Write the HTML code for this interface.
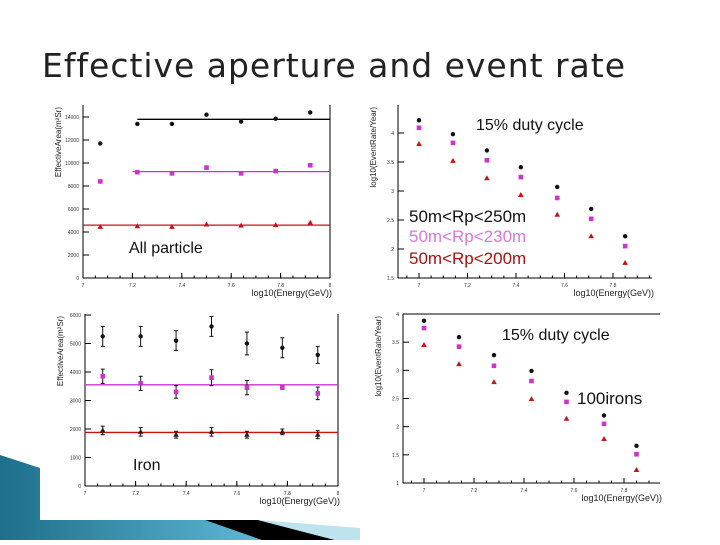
<!DOCTYPE html>
<html><head><meta charset="utf-8"><style>
body{margin:0;width:720px;height:540px;background:#fff;overflow:hidden;font-family:"Liberation Sans",sans-serif}
</style></head><body>
<svg id="s" width="720" height="540" xmlns="http://www.w3.org/2000/svg">
<defs><linearGradient id="tg" x1="0" x2="1"><stop offset="0" stop-color="#1d6f8a"/><stop offset="1" stop-color="#5fb8d6"/></linearGradient></defs>
<polygon points="0,455 40,468 40,520 245,520 262,540 0,540" fill="url(#tg)"/>
<polygon points="205,520 258,520 335,540 262,540" fill="#000"/>
<polygon points="258,520 360,528 360,540 335,540" fill="#bde3ef"/>
<text x="42" y="77" font-size="33" fill="#222" textLength="583" style="font-variant-ligatures:none" font-family="DejaVu Sans, sans-serif">Effective aperture and event rate</text>
<g id="g"></g>
</svg>
<script>
const xs1=[7.07,7.22,7.36,7.5,7.64,7.78,7.92];
const a1Black=[11700,13400,13400,14200,13600,13850,14400];
const a1Mag=[8400,9200,9100,9600,9100,9300,9800];
const a1Red=[4450,4500,4450,4650,4550,4600,4800];
const fit1=[13800,9250,4600];
const xs2=[7.0,7.14,7.28,7.42,7.57,7.71,7.85];
const r1Black=[4.22,3.98,3.7,3.41,3.07,2.69,2.22];
const r1Mag=[4.09,3.83,3.53,3.24,2.88,2.52,2.05];
const r1Red=[3.81,3.52,3.22,2.93,2.59,2.22,1.76];
const xs3=[7.07,7.22,7.36,7.5,7.64,7.78,7.92];
const a2Black=[5250,5250,5100,5600,5000,4850,4600];
const a2BlackErr=[350,350,350,350,400,350,300];
const a2Mag=[3850,3600,3300,3800,3450,3450,3250];
const a2MagErr=[250,250,220,280,250,0,220];
const a2Red=[1950,1900,1800,1900,1800,1900,1800];
const a2RedErr=[150,150,120,150,120,100,140];
const fit2=[3550,1880];
const xs4=[7.0,7.14,7.28,7.43,7.57,7.72,7.85];
const r2Black=[3.88,3.59,3.27,2.99,2.6,2.2,1.66];
const r2Mag=[3.75,3.42,3.08,2.81,2.44,2.05,1.51];
const r2Red=[3.45,3.11,2.79,2.49,2.14,1.78,1.23];
const ticksA1=['0','2000','4000','6000','8000','10000','12000','14000'];
const ticksR1=['1.5','2','2.5','3','3.5','4'];
const ticksA2=['0','1000','2000','3000','4000','5000','6000'];
const ticksR2=['1','1.5','2','2.5','3','3.5','4'];
const ticksX=['7','7.2','7.4','7.6','7.8','8'];
const NS='http://www.w3.org/2000/svg',G=document.getElementById('g');
function el(t,a,p){const e=document.createElementNS(NS,t);for(const k in a)e.setAttribute(k,a[k]);(p||G).appendChild(e);return e;}
function txt(s,a,p){const e=el('text',a,p);e.textContent=s;return e;}
const C={k:'#111',m:'#cc33cc',r:'#cc1111'};
function panel(name,P){
 const g=el('g',{});
 const X=v=>P.x7+(v-7)/(P.xmax-7)*(P.x1-P.x7);
 const Y=v=>P.y0-(v-P.ymin)/(P.ymax-P.ymin)*(P.y0-P.y1);
 el('line',{x1:P.x0,y1:P.top,x2:P.x0,y2:P.y0,stroke:'#000','stroke-width':1},g);
 el('line',{x1:P.x0,y1:P.y0,x2:P.xend,y2:P.y0,stroke:'#000','stroke-width':1},g);
 if(P.right)el('line',{x1:P.xend,y1:P.top,x2:P.xend,y2:P.y0,stroke:'#000','stroke-width':1},g);
 if(P.topline)el('line',{x1:P.x0,y1:P.top,x2:P.xend,y2:P.top,stroke:'#000','stroke-width':1},g);
 P.yt.forEach(s=>{const v=parseFloat(s),y=Y(v);el('line',{x1:P.x0,y1:y,x2:P.x0+6,y2:y,stroke:'#000'},g);
  const t=txt(s,{x:P.x0-4,y:y+2,'font-size':5,'text-anchor':'end',fill:'#333'},g);});
 ticksX.forEach(s=>{const v=parseFloat(s),x=X(v);if(x>P.xend+1)return;el('line',{x1:x,y1:P.y0,x2:x,y2:P.y0-5,stroke:'#000'},g);
  const t=txt(s,{x:x,y:P.y0+9,'font-size':5,'text-anchor':'middle',fill:'#333'},g);});
 for(let v=6.9;v<8.05;v+=0.05){const x=X(v);if(x>P.x0+1&&x<P.xend)el('line',{x1:x,y1:P.y0,x2:x,y2:P.y0-2.5,stroke:'#000'},g);}
 const xt=txt('log10(Energy(GeV))',{x:P.xend+2,y:P.y0+18,'font-size':9,'text-anchor':'end',fill:'#222'},g);
 
 const yt=txt(P.ytitle,{x:0,y:0,'font-size':8,'text-anchor':'end',fill:'#222',transform:`translate(${P.x0-22},${P.top+2}) rotate(-90)`},g);
 
 (P.fits||[]).forEach(f=>{const l=el('line',{x1:X(f[1]),x2:P.xend,y1:Y(f[0]),y2:Y(f[0]),stroke:f[2],'stroke-width':1.3},g);});
 P.series.forEach(S=>{S.v.forEach((v,i)=>{const x=X(S.x[i]),y=Y(v);
  if(S.e&&S.e[i]){el('line',{x1:x,x2:x,y1:Y(v-S.e[i]),y2:Y(v+S.e[i]),stroke:'#111'},g);
   [v-S.e[i],v+S.e[i]].forEach(w=>el('line',{x1:x-2,x2:x+2,y1:Y(w),y2:Y(w),stroke:'#111'},g));}
  let m;
  if(S.sh==='c')m=el('circle',{cx:x,cy:y,r:2.2,fill:S.c},g);
  else if(S.sh==='s')m=el('rect',{x:x-2.3,y:y-2.3,width:4.6,height:4.6,fill:S.c},g);
  else m=el('polygon',{points:`${x},${y-3} ${x-2.8},${y+2} ${x+2.8},${y+2}`,fill:S.c},g);
  });});
 return g;
}
const g1=panel('aperture-all-particle',{x0:83,x7:83,x1:330,xmax:8,xend:330,y0:278,y1:117,ymin:0,ymax:14000,top:105,right:true,yt:ticksA1,ytitle:'EffectiveArea(m²Sr)',
 fits:[[fit1[0],7.22,'#000'],[fit1[1],7.2,'#cc33cc'],[fit1[2],7.0,'#cc1111']],
 series:[{x:xs1,v:a1Black,c:C.k,sh:'c'},{x:xs1,v:a1Mag,c:C.m,sh:'s'},{x:xs1,v:a1Red,c:C.r,sh:'t'}]});
txt('All particle',{x:129,y:253,'font-size':16,fill:'#111'},g1);
const g2=panel('rate-all-particle',{x0:398,x7:419,x1:613,xmax:7.8,xend:652,y0:278,y1:133,ymin:1.5,ymax:4,top:105,yt:ticksR1,ytitle:'log10(EventRate/Year)',
 series:[{x:xs2,v:r1Black,c:C.k,sh:'c'},{x:xs2,v:r1Mag,c:C.m,sh:'s'},{x:xs2,v:r1Red,c:C.r,sh:'t'}]});
txt('15% duty cycle',{x:476,y:130,'font-size':16,fill:'#111'},g2);
[['50m<Rp<250m','#111',222],['50m<Rp<230m','#dd77dd',242],['50m<Rp<200m','#aa1111',264]].forEach(a=>{const t=txt(a[0],{x:409,y:a[2],'font-size':17,fill:a[1]},g2);});
const g3=panel('aperture-iron',{x0:85,x7:85,x1:338,xmax:8,xend:338,y0:486,y1:315,ymin:0,ymax:6000,top:314,right:true,yt:ticksA2,ytitle:'EffectiveArea(m²Sr)',
 fits:[[fit2[0],7.0,'#cc33cc'],[fit2[1],7.0,'#cc1111']],
 series:[{x:xs3,v:a2Black,e:a2BlackErr,c:C.k,sh:'c'},{x:xs3,v:a2Mag,e:a2MagErr,c:C.m,sh:'s'},{x:xs3,v:a2Red,e:a2RedErr,c:'#222',sh:'t'}]});
txt('Iron',{x:133,y:470,'font-size':16,fill:'#111'},g3);
const g4=panel('rate-iron',{x0:403,x7:424,x1:624,xmax:7.8,xend:660,y0:483,y1:314,ymin:1,ymax:4,top:314,topline:true,yt:ticksR2,ytitle:'log10(EventRate/Year)',
 series:[{x:xs4,v:r2Black,c:C.k,sh:'c'},{x:xs4,v:r2Mag,c:C.m,sh:'s'},{x:xs4,v:r2Red,c:C.r,sh:'t'}]});
txt('15% duty cycle',{x:502,y:340,'font-size':16,fill:'#111'},g4);
txt('100irons',{x:577,y:404,'font-size':17,fill:'#111'},g4);
</script>
</body></html>
